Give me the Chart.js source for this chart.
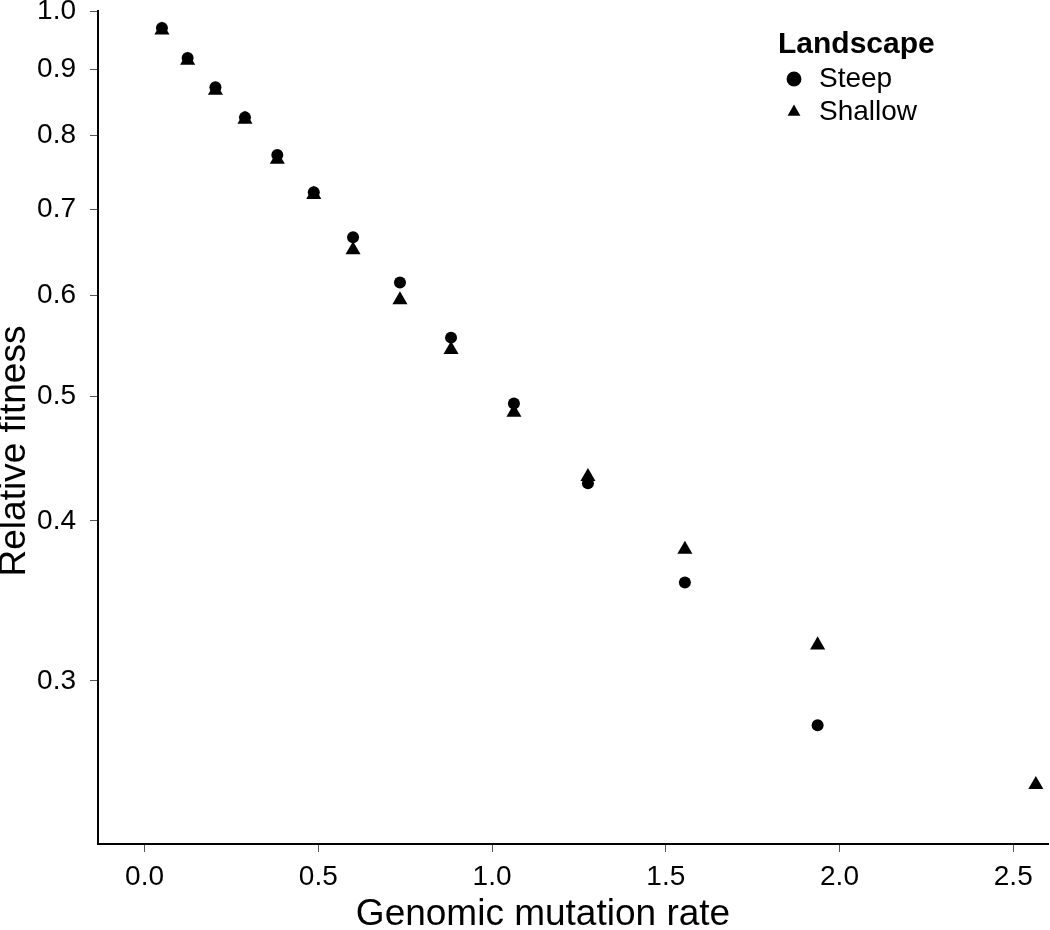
<!DOCTYPE html>
<html>
<head>
<meta charset="utf-8">
<title>Relative fitness vs genomic mutation rate</title>
<script src="https://cdn.jsdelivr.net/npm/chart.js@4.4.1/dist/chart.umd.min.js"></script>
<style>
  html, body { margin: 0; padding: 0; background: #fff; }
  #wrap { width: 1050px; height: 930px; }
</style>
</head>
<body>
<div id="wrap"><canvas id="fitnessChart"></canvas></div>
<script>
// genomic mutation rate of each treatment
const mutationRate = [0.050, 0.124, 0.204, 0.289, 0.382, 0.487, 0.600, 0.735, 0.882, 1.063, 1.276, 1.555, 1.937, 2.565];
// relative fitness on the steep landscape (no value at the highest rate)
const steepFitness = [0.970, 0.919, 0.872, 0.826, 0.772, 0.722, 0.666, 0.614, 0.556, 0.494, 0.428, 0.358, 0.277];
// relative fitness on the shallow landscape
const shallowFitness = [0.966, 0.915, 0.867, 0.823, 0.766, 0.719, 0.651, 0.595, 0.544, 0.486, 0.433, 0.380, 0.320, 0.249];

const xTicks = [0, 0.5, 1.0, 1.5, 2.0, 2.5];
const yTicks = [0.3, 0.4, 0.5, 0.6, 0.7, 0.8, 0.9, 1.0];

const xTitle = 'Genomic mutation rate';
const yTitle = 'Relative fitness';

const fontFamily = '"Liberation Sans", Arial, Helvetica, sans-serif';
Chart.defaults.font.family = fontFamily;
Chart.defaults.color = '#000';

function toPoints(values) {
    return values.map((v, i) => ({ x: mutationRate[i], y: v }));
}

function axisTicks(list) {
    return function(axis) {
        axis.ticks = list.map(v => ({ value: v }));
    };
}

// put the legend box inside the plot, top right, like the original
const legendSpot = {
    id: 'legendSpot',
    afterLayout(chart) {
        chart.legend.left = 778;
        chart.legend.top = 30;
    }
};

// axis titles sit a little off the plot centre in the original (R mtext)
const axisTitles = {
    id: 'axisTitles',
    afterDraw(chart) {
        let ctx = chart.ctx;
        ctx.save();
        ctx.fillStyle = '#000';
        ctx.font = '37px ' + fontFamily;
        ctx.textAlign = 'center';
        ctx.textBaseline = 'middle';
        ctx.fillText(xTitle, 543, 915);
        ctx.translate(15, 451);
        ctx.rotate(-Math.PI / 2);
        ctx.fillText(yTitle, 0, 0);
        ctx.restore();
    }
};

function createFitnessChart() {
    let ctx = document.getElementById('fitnessChart').getContext('2d');
    new Chart(ctx, {
        type: 'scatter',
        data: {
            datasets: [{
                label: 'Steep',
                data: toPoints(steepFitness),
                pointStyle: 'circle',
                pointRadius: 6,
                pointBorderWidth: 0,
                backgroundColor: '#000',
                borderColor: '#000'
            }, {
                label: 'Shallow',
                data: toPoints(shallowFitness),
                pointStyle: 'triangle',
                pointRadius: 8.7,
                pointBorderWidth: 0,
                backgroundColor: '#000',
                borderColor: '#000'
            }]
        },
        options: {
            responsive: true,
            maintainAspectRatio: false,
            animation: false,
            layout: { autoPadding: false, padding: { top: 11, right: 2, bottom: 0, left: 0 } },
            plugins: {
                tooltip: { enabled: false },
                legend: {
                    position: 'chartArea',
                    align: 'start',
                    title: {
                        display: true,
                        text: 'Landscape',
                        position: 'start',
                        color: '#000',
                        font: { size: 30, weight: 'bold', lineHeight: 1 },
                        padding: 0
                    },
                    labels: {
                        usePointStyle: true,
                        boxWidth: 22,
                        boxHeight: 10.5,
                        padding: 5,
                        color: '#000',
                        font: { size: 28 }
                    }
                }
            },
            scales: {
                x: {
                    type: 'linear',
                    bounds: 'data',
                    min: -0.134,
                    max: 2.6,
                    afterBuildTicks: axisTicks(xTicks),
                    afterFit: s => { s.height = 86; s.paddingLeft = 0; s.paddingRight = 0; },
                    ticks: {
                        callback: v => Number(v).toFixed(1),
                        autoSkip: false,
                        maxRotation: 0,
                        padding: 8,
                        color: '#000',
                        font: { size: 28 }
                    },
                    grid: { drawOnChartArea: false, drawTicks: true, tickLength: 8, color: '#555', lineWidth: 1 },
                    border: { display: true, color: '#000', width: 2 }
                },
                y: {
                    type: 'logarithmic',
                    bounds: 'data',
                    min: 0.2238,
                    max: 1.0,
                    afterBuildTicks: axisTicks(yTicks),
                    afterFit: s => { s.width = 98; s.paddingTop = 0; s.paddingBottom = 0; },
                    ticks: {
                        callback: v => Number(v).toFixed(1),
                        autoSkip: false,
                        padding: 14,
                        color: '#000',
                        font: { size: 28 }
                    },
                    grid: { drawOnChartArea: false, drawTicks: true, tickLength: 8, color: '#555', lineWidth: 1 },
                    border: { display: true, color: '#000', width: 2 }
                }
            }
        },
        plugins: [legendSpot, axisTitles]
    });
}

createFitnessChart();
</script>
</body>
</html>
